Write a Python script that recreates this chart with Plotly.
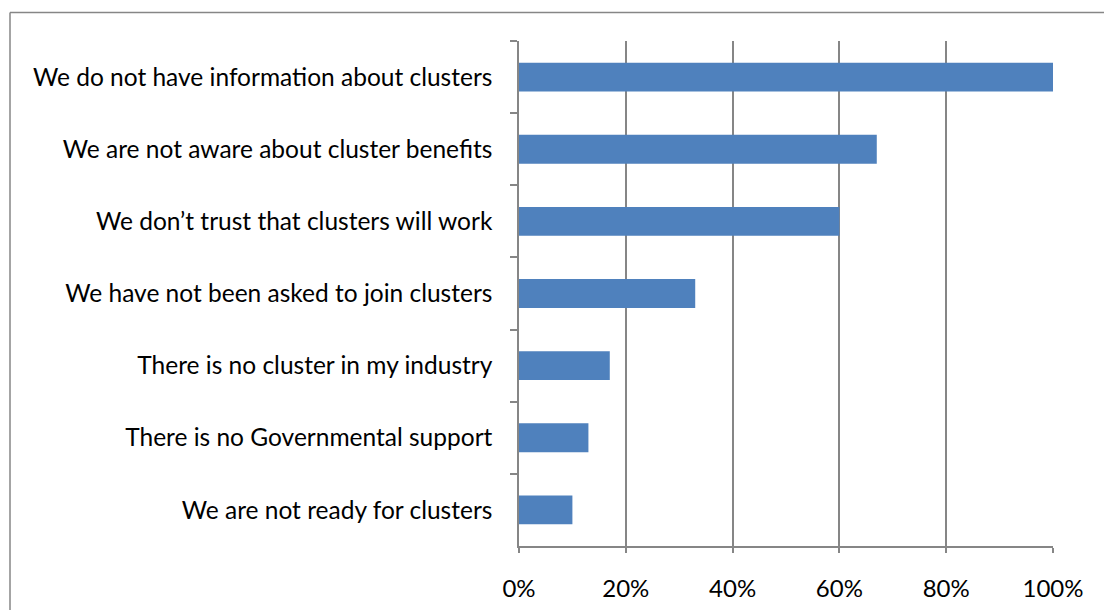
import plotly.graph_objects as go

reasons = [
    "We do not have information about clusters",
    "We are not aware about cluster benefits",
    "We don\u2019t trust that clusters will work",
    "We have not been asked to join clusters",
    "There is no cluster in my industry",
    "There is no Governmental support",
    "We are not ready for clusters",
]
shares = [1.00, 0.67, 0.60, 0.33, 0.17, 0.13, 0.10]
tick_vals = [0, 0.2, 0.4, 0.6, 0.8, 1.0]
tick_text = ["0%", "20%", "40%", "60%", "80%", "100%"]

GRAY = "#868686"
FONT = "Lato, Carlito, Calibri, sans-serif"

fig = go.Figure(
    go.Bar(
        x=shares,
        y=reasons,
        orientation="h",
        marker=dict(color="#4F81BD", line=dict(width=0)),
        hoverinfo="x+y",
    )
)

W, H = 1104, 614
L, R, T, B = 519, 51, 41, 60
pw, ph = W - L - R, H - T - B


def px_x(p):
    return (p - L) / pw


def px_y(p):
    return (H - B - p) / ph


fig.update_layout(
    width=W,
    height=H,
    margin=dict(l=L, r=R, t=T, b=B),
    paper_bgcolor="white",
    plot_bgcolor="white",
    bargap=0.6,
    showlegend=False,
    font=dict(family=FONT, size=24, color="#000000"),
    xaxis=dict(
        range=[0, 1.0],
        tickvals=tick_vals,
        ticktext=tick_text,
        showgrid=True,
        gridcolor=GRAY,
        gridwidth=1.5,
        zeroline=False,
        showline=True,
        linecolor=GRAY,
        linewidth=1.5,
        ticks="outside",
        ticklen=5,
        tickwidth=1.5,
        tickcolor=GRAY,
        ticklabelstandoff=15,
        tickfont=dict(size=24),
        fixedrange=True,
    ),
    yaxis=dict(
        categoryorder="array",
        categoryarray=reasons,
        autorange="reversed",
        showgrid=False,
        zeroline=False,
        showline=True,
        linecolor=GRAY,
        linewidth=1.5,
        ticks="outside",
        tickson="boundaries",
        ticklen=7,
        tickwidth=1.5,
        tickcolor=GRAY,
        ticklabelstandoff=20,
        tickfont=dict(size=24.5),
        fixedrange=True,
    ),
    shapes=[
        dict(
            type="line", xref="paper", yref="paper",
            x0=px_x(10), y0=px_y(12), x1=px_x(W + 5), y1=px_y(12),
            line=dict(color=GRAY, width=1.5),
        ),
        dict(
            type="line", xref="paper", yref="paper",
            x0=px_x(10), y0=px_y(12), x1=px_x(10), y1=px_y(H + 5),
            line=dict(color=GRAY, width=1.5),
        ),
    ],
)

fig.write_html("out.html")
